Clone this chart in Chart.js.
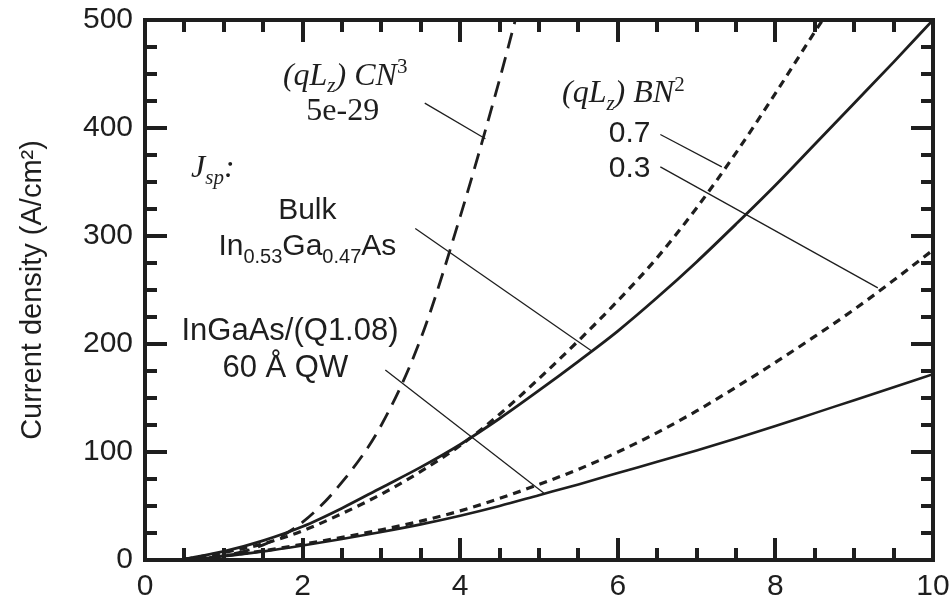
<!DOCTYPE html>
<html>
<head>
<meta charset="utf-8">
<script src="https://cdn.jsdelivr.net/npm/chart.js@4.4.1/dist/chart.umd.min.js"></script>
<style>
  html, body { margin: 0; padding: 0; background: #fff; }
  #wrap { width: 951px; height: 599px; }
</style>
</head>
<body>
<div id="wrap"><canvas id="jsp-chart"></canvas></div>
<script>
// carrier density N (1e18 cm^-3) and spontaneous current density J (A/cm^2)
const nFull = [0.5, 1, 1.5, 2, 2.5, 3, 3.5, 4, 4.5, 5, 5.5, 6, 6.5, 7, 7.5, 8, 8.5, 9, 9.5, 10];
const jBulk = [0.8, 8, 18, 31, 48, 67, 86, 107, 131, 157, 184, 212, 243, 276, 311, 347, 385, 423, 461, 500];
const jQW   = [0.4, 3.5, 8, 13.5, 19.5, 26, 33, 41, 50, 60, 70, 80.5, 91, 101.5, 112.5, 124, 136, 148, 160, 172];
const jB03  = [0.5, 4, 8.5, 14.5, 21, 28, 36, 45.5, 57, 70, 84, 100, 118, 138, 160, 183, 207, 232, 259, 287];

const nB07 = [0.5, 1, 1.5, 2, 2.5, 3, 3.5, 4, 4.5, 5, 5.5, 6, 6.5, 7, 7.5, 8, 8.5, 8.6];
const jB07 = [0.6, 7, 15, 27, 43, 61, 82, 106, 135, 168, 203, 240, 280, 326, 377, 432, 489, 500];

const nC3 = [0.5, 1, 1.5, 2, 2.5, 3, 3.5, 4, 4.5, 4.7];
const jC3 = [0.5, 4, 14, 35, 72, 125, 205, 318, 445, 500];

const xTicks = [0, 2, 4, 6, 8, 10];
const yTicks = [0, 100, 200, 300, 400, 500];

const pts = (xs, ys) => xs.map((x, i) => ({ x: x, y: ys[i] }));

const INK = '#1e1e1e';
const SANS = "'Liberation Sans', Arial, sans-serif";
const SERIF = "'Liberation Serif', 'Times New Roman', serif";

// text labels placed in data coordinates (x centre, baseline y)
const notes = [
  { x: 2.54, y: 440, fam: SERIF, size: 32, parts: [{ t: '(', it: 1 }, { t: 'qL', it: 1 }, { t: 'z', it: 1, sub: 1 }, { t: ') CN', it: 1 }, { t: '3', sup: 1 }] },
  { x: 2.51, y: 407, fam: SERIF, size: 32, parts: [{ t: '5e-29' }] },
  { x: 0.86, y: 355, fam: SERIF, size: 32, parts: [{ t: 'J', it: 1 }, { t: 'sp', it: 1, sub: 1 }, { t: ':', it: 1 }] },
  { x: 2.06, y: 316, fam: SANS, size: 30, parts: [{ t: 'Bulk' }] },
  { x: 2.06, y: 282, fam: SANS, size: 30, parts: [{ t: 'In' }, { t: '0.53', sub: 1 }, { t: 'Ga' }, { t: '0.47', sub: 1 }, { t: 'As' }] },
  { x: 1.84, y: 204, fam: SANS, size: 31, parts: [{ t: 'InGaAs/(Q1.08)' }] },
  { x: 1.78, y: 169, fam: SANS, size: 31, parts: [{ t: '60 Å QW' }] },
  { x: 6.07, y: 424, fam: SERIF, size: 32, parts: [{ t: '(', it: 1 }, { t: 'qL', it: 1 }, { t: 'z', it: 1, sub: 1 }, { t: ') BN', it: 1 }, { t: '2', sup: 1 }] },
  { x: 6.15, y: 387, fam: SANS, size: 30, parts: [{ t: '0.7' }] },
  { x: 6.15, y: 355, fam: SANS, size: 30, parts: [{ t: '0.3' }] }
];

// leader lines from labels to curves
const leaders = [
  [[3.55, 423], [4.32, 390]],
  [[3.43, 307], [5.66, 194]],
  [[3.05, 176], [5.06, 62]],
  [[6.54, 394], [7.32, 364]],
  [[6.54, 364], [9.30, 252]]
];

function drawRich(ctx, n, cx, base) {
  const small = Math.round(n.size * 0.66);
  const fontOf = p => (p.it ? 'italic ' : '') + ((p.sub || p.sup) ? small : n.size) + 'px ' + n.fam;
  let w = 0;
  n.parts.forEach(p => { ctx.font = fontOf(p); w += ctx.measureText(p.t).width; });
  let x = cx - w / 2;
  n.parts.forEach(p => {
    ctx.font = fontOf(p);
    const dy = p.sub ? n.size * 0.24 : (p.sup ? -n.size * 0.36 : 0);
    ctx.fillText(p.t, x, base + dy);
    x += ctx.measureText(p.t).width;
  });
}

function line(ctx, x1, y1, x2, y2) {
  ctx.beginPath();
  ctx.moveTo(x1, y1);
  ctx.lineTo(x2, y2);
  ctx.stroke();
}

const framePlugin = {
  id: 'frame',
  afterDraw(chart) {
    const ctx = chart.ctx;
    const a = chart.chartArea;
    const xs = chart.scales.x;
    const ys = chart.scales.y;
    ctx.save();
    ctx.setLineDash([]);
    ctx.strokeStyle = INK;
    ctx.fillStyle = INK;

    // box
    ctx.lineWidth = 4;
    ctx.strokeRect(a.left, a.top, a.right - a.left, a.bottom - a.top);

    // inward ticks on all four sides
    ctx.lineWidth = 4;
    for (let i = 1; i < 20; i++) {
      const v = i * 0.5;
      const px = Math.round(xs.getPixelForValue(v));
      const len = (i % 4 === 0) ? 22 : 12;
      line(ctx, px, a.bottom, px, a.bottom - len);
      line(ctx, px, a.top, px, a.top + len);
    }
    for (let i = 1; i < 20; i++) {
      const v = i * 25;
      const py = Math.round(ys.getPixelForValue(v));
      const len = (i % 4 === 0) ? 22 : 12;
      line(ctx, a.left, py, a.left + len, py);
      line(ctx, a.right, py, a.right - len, py);
    }

    // leaders
    ctx.lineWidth = 1.3;
    leaders.forEach(l => line(ctx,
      xs.getPixelForValue(l[0][0]), ys.getPixelForValue(l[0][1]),
      xs.getPixelForValue(l[1][0]), ys.getPixelForValue(l[1][1])));

    // labels
    ctx.textBaseline = 'alphabetic';
    ctx.textAlign = 'left';
    notes.forEach(n => drawRich(ctx, n, xs.getPixelForValue(n.x), ys.getPixelForValue(n.y)));

    ctx.restore();
  }
};

const curve = (data, width, dash) => ({
  data: data,
  borderColor: INK,
  borderWidth: width,
  borderDash: dash,
  pointRadius: 0,
  fill: false,
  cubicInterpolationMode: 'monotone'
});

Chart.defaults.font.family = SANS;
Chart.defaults.color = INK;

new Chart(document.getElementById('jsp-chart'), {
  type: 'line',
  data: {
    datasets: [
      curve(pts(nC3, jC3), 2.8, [16, 9]),
      curve(pts(nB07, jB07), 3.2, [8, 6]),
      curve(pts(nFull, jB03), 3.2, [8, 6]),
      curve(pts(nFull, jBulk), 2.8, []),
      curve(pts(nFull, jQW), 2.6, [])
    ]
  },
  options: {
    responsive: true,
    maintainAspectRatio: false,
    animation: false,
    layout: { padding: { left: 0, top: 20, right: 18, bottom: 0 } },
    plugins: { legend: { display: false }, tooltip: { enabled: false } },
    scales: {
      x: {
        type: 'linear',
        min: 0,
        max: 10,
        afterBuildTicks: s => { s.ticks = xTicks.map(v => ({ value: v })); },
        afterFit: s => { s.height = 39; s.paddingLeft = 0; s.paddingRight = 0; },
        grid: { display: false, drawTicks: false },
        border: { display: false },
        ticks: { font: { size: 30 }, padding: 9, maxRotation: 0 }
      },
      y: {
        type: 'linear',
        min: 0,
        max: 500,
        afterBuildTicks: s => { s.ticks = yTicks.map(v => ({ value: v })); },
        afterFit: s => { s.width = 145; s.paddingTop = 0; s.paddingBottom = 0; },
        grid: { display: false, drawTicks: false },
        border: { display: false },
        ticks: { font: { size: 30 }, padding: 12 },
        title: {
          display: true,
          text: 'Current density (A/cm²)',
          font: { size: 29 },
          padding: { top: 16, bottom: 0 }
        }
      }
    }
  },
  plugins: [framePlugin]
});
</script>
</body>
</html>
